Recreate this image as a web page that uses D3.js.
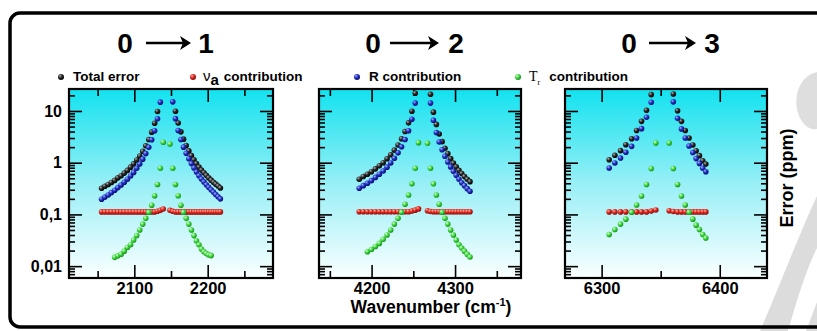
<!DOCTYPE html>
<html><head><meta charset="utf-8">
<script src="https://cdn.jsdelivr.net/npm/d3@7"></script>
<style>body{margin:0;background:#fff}svg{display:block}</style>
</head><body>
<script>
// ---------------- DATA ----------------
const titleFrom = ["0", "0", "0"];
const titleTo = ["1", "2", "3"];
const seriesNames = ["Total error", "contribution", "R contribution", "contribution"];
const yMajorTicks = [0.01, 0.1, 1, 10];
const yMajorLabels = ["0,01", "0,1", "1", "10"];
const xMajor01 = [2100, 2200], xMinor01 = [2050, 2150, 2250];
const xMajor02 = [4200, 4300], xMinor02 = [4150, 4250, 4350];
const xMajor03 = [6300, 6400], xMinor03 = [6350];
const xTitle = "Wavenumber (cm";
const yTitle = "Error (ppm)";

// Band 0 -> 1 : P(21..1) then R(0..20)
const wn01 = [2055.4, 2059.9, 2064.4, 2068.8, 2073.3, 2077.6, 2082.0, 2086.3, 2090.6, 2094.9, 2099.1, 2103.3, 2107.4, 2111.5, 2115.6, 2119.7, 2123.7, 2127.7, 2131.6, 2135.5, 2139.4,
  2148.6, 2152.4, 2156.1, 2159.8, 2163.5, 2167.1, 2170.7, 2174.3, 2177.8, 2181.3, 2184.7, 2188.1, 2191.5, 2194.9, 2198.2, 2201.4, 2204.7, 2207.9, 2211.0, 2214.2, 2217.3];
const total01 = [0.32, 0.35, 0.38, 0.415, 0.455, 0.51, 0.56, 0.63, 0.71, 0.82, 0.95, 1.13, 1.35, 1.66, 2.12, 2.8, 3.9, 5.8, 9.8, null, null,
  null, null, 9.9, 5.85, 3.95, 2.85, 2.15, 1.69, 1.37, 1.14, 0.96, 0.82, 0.72, 0.64, 0.57, 0.51, 0.46, 0.42, 0.385, 0.355, 0.325];
const nuA01 = [0.112, 0.112, 0.112, 0.112, 0.112, 0.112, 0.112, 0.112, 0.112, 0.112, 0.112, 0.112, 0.112, 0.112, 0.112, 0.112, 0.112, 0.112, 0.115, 0.12, 0.127,
  0.12, 0.115, 0.112, 0.112, 0.112, 0.112, 0.112, 0.112, 0.112, 0.112, 0.112, 0.112, 0.112, 0.112, 0.112, 0.112, 0.112, 0.112, 0.112, 0.112, 0.112];
const rot01 = [0.197, 0.216, 0.238, 0.264, 0.293, 0.33, 0.37, 0.42, 0.48, 0.555, 0.65, 0.78, 0.94, 1.17, 1.50, 1.98, 2.77, 4.16, 7.05, 14.8, null,
  null, 15, 7.1, 4.2, 2.8, 2.0, 1.52, 1.19, 0.96, 0.79, 0.66, 0.56, 0.485, 0.425, 0.375, 0.335, 0.30, 0.27, 0.243, 0.22, 0.2];
const tr01 = [null, null, null, null, 0.0148, 0.0158, 0.017, 0.0195, 0.023, 0.026, 0.032, 0.039, 0.050, 0.065, 0.084, 0.11, 0.15, 0.23, 0.38, 0.78, 2.48,
  2.3, 0.78, 0.38, 0.23, 0.15, 0.11, 0.084, 0.065, 0.05, 0.039, 0.031, 0.026, 0.0215, 0.019, 0.0175, 0.0165, 0.016, null, null, null, null];

// Band 0 -> 2 : P(17..1) then R(0..15)
const wn02 = [4185.2, 4190.1, 4195.0, 4199.8, 4204.6, 4209.3, 4213.9, 4218.5, 4222.9, 4227.3, 4231.7, 4235.9, 4240.1, 4244.3, 4248.3, 4252.3, 4256.2,
  4267.0, 4270.6, 4274.1, 4277.6, 4281.0, 4284.5, 4287.9, 4291.3, 4294.7, 4298.0, 4301.4, 4304.7, 4308.0, 4311.3, 4314.6, 4317.9];
const total02 = [0.48, 0.54, 0.60, 0.67, 0.76, 0.87, 1.0, 1.19, 1.42, 1.75, 2.2, 2.9, 4.0, 5.9, 9.9, 22, null,
  null, 21, 9.5, 5.5, 3.6, 2.55, 1.9, 1.5, 1.2, 0.98, 0.83, 0.71, 0.62, 0.54, 0.48, 0.43];
const nuA02 = [0.113, 0.113, 0.113, 0.113, 0.113, 0.113, 0.113, 0.113, 0.113, 0.113, 0.113, 0.113, 0.113, 0.113, 0.116, 0.121, 0.128,
  0.118, 0.114, 0.113, 0.113, 0.113, 0.113, 0.113, 0.113, 0.113, 0.113, 0.113, 0.113, 0.113, 0.113, 0.113, 0.113];
const rot02 = [0.32, 0.36, 0.40, 0.45, 0.52, 0.60, 0.69, 0.82, 0.99, 1.22, 1.55, 2.03, 2.80, 4.16, 6.93, 14.2, null,
  null, 14.2, 6.6, 3.83, 2.51, 1.78, 1.33, 1.03, 0.83, 0.68, 0.57, 0.48, 0.41, 0.36, 0.315, 0.28];
const tr02 = [null, null, 0.019, 0.021, 0.024, 0.0275, 0.033, 0.040, 0.050, 0.065, 0.084, 0.11, 0.157, 0.237, 0.39, 0.78, 2.44,
  2.37, 0.78, 0.39, 0.237, 0.157, 0.11, 0.084, 0.065, 0.050, 0.040, 0.032, 0.026, 0.0224, 0.0195, 0.017, 0.015];

// Band 0 -> 3 : P(10..1) then R(0..10)
const wn03 = [6306.4, 6311.2, 6316.0, 6320.5, 6325.4, 6329.6, 6333.8, 6338.0, 6342.0, 6345.9,
  6357.2, 6360.7, 6364.3, 6367.6, 6370.8, 6374.0, 6377.2, 6380.0, 6382.8, 6385.6, 6388.2];
const total03 = [1.14, 1.39, 1.71, 2.23, 2.9, 4.2, 6.3, 10.3, 20.7, null,
  null, 21.3, 10.1, 6.3, 4.2, 3.0, 2.2, 1.7, 1.37, 1.09, 0.94];
const nuA03 = [0.112, 0.112, 0.112, 0.112, 0.112, 0.112, 0.112, 0.112, 0.116, 0.122,
  0.118, 0.114, 0.112, 0.112, 0.112, 0.112, 0.112, 0.112, 0.112, 0.112, 0.112];
const rot03 = [0.79, 0.99, 1.23, 1.59, 2.07, 3.0, 4.55, 7.55, 14.7, null,
  null, 15, 7.2, 4.5, 3.0, 2.1, 1.57, 1.2, 0.97, 0.78, 0.67];
const tr03 = [0.041, 0.051, 0.065, 0.081, 0.11, 0.152, 0.227, 0.38, 0.77, 2.4,
  2.4, 0.77, 0.38, 0.227, 0.152, 0.11, 0.081, 0.062, 0.051, 0.041, 0.035];

// ---------------- LAYOUT ----------------
const W = 817, H = 331;
const yTop = 89, yBot = 278;
const bands = [
  {wn: wn01, total: total01, nuA: nuA01, rot: rot01, tr: tr01, major: xMajor01, minor: xMinor01, x0: 69, x1: 273, dom: [2011, 2289], t: [125, 146, 191, 206]},
  {wn: wn02, total: total02, nuA: nuA02, rot: rot02, tr: tr02, major: xMajor02, minor: xMinor02, x0: 319, x1: 521, dom: [4137, 4379], t: [373, 390, 439, 456]},
  {wn: wn03, total: total03, nuA: nuA03, rot: rot03, tr: tr03, major: xMajor03, minor: xMinor03, x0: 565, x1: 767, dom: [6269, 6440], t: [629, 649, 696, 712]}
];
const FONT = "'Liberation Sans', Arial, Helvetica, sans-serif";

const svg = d3.select("body").append("svg").attr("width", W).attr("height", H);
const defs = svg.append("defs");
const lg = defs.append("linearGradient").attr("id", "bg").attr("x1", 0).attr("y1", 0).attr("x2", 0).attr("y2", 1);
lg.append("stop").attr("offset", "0%").attr("stop-color", "#12e2ef");
lg.append("stop").attr("offset", "50%").attr("stop-color", "#98eff6");
lg.append("stop").attr("offset", "100%").attr("stop-color", "#fbffff");

const colors = {
  black: ["#b0b0b0", "#2a2a2a", "#000000"],
  blue: ["#a8b4ff", "#2233c8", "#0a0a6a"],
  red: ["#ffb8a8", "#e0281e", "#8a0c0c"],
  green: ["#e0ffd8", "#44dc44", "#169016"]
};
Object.entries(colors).forEach(([k, c]) => {
  const rg = defs.append("radialGradient").attr("id", "m-" + k).attr("cx", "35%").attr("cy", "32%").attr("r", "70%");
  rg.append("stop").attr("offset", "0%").attr("stop-color", c[0]);
  rg.append("stop").attr("offset", "45%").attr("stop-color", c[1]);
  rg.append("stop").attr("offset", "100%").attr("stop-color", c[2]);
});

// watermark shapes
svg.append("path").attr("d", "M817,72 C802,75 794,92 797,109 C800,124 810,131 817,129 Z").attr("fill", "#dedede");
svg.append("path").attr("d", "M817,196 C801,230 782,280 760,331 L788,331 C797,300 806,270 817,248 Z").attr("fill", "#dcdcdc");
svg.append("path").attr("d", "M806,331 L817,302 L817,331 Z").attr("fill", "#dcdcdc");

// outer frame
svg.append("rect").attr("x", 10).attr("y", 13).attr("width", 840).attr("height", 314).attr("rx", 10)
  .attr("fill", "none").attr("stroke", "#000").attr("stroke-width", 3.5);

const y = d3.scaleLog().domain([0.0059, 26.6]).range([yBot, yTop]);
const yMinorTicks = y.ticks().filter(v => !yMajorTicks.some(m => Math.abs(m - v) / m < 1e-6));

function styleAxis(g) {
  g.select(".domain").remove();
  g.selectAll(".tick line").attr("stroke", "#000").attr("stroke-width", 1.6);
  g.selectAll("text").attr("font-family", FONT).attr("font-weight", "bold").attr("fill", "#000");
}

bands.forEach((b, bi) => {
  const g = svg.append("g");
  const x = d3.scaleLinear().domain(b.dom).range([b.x0, b.x1]);
  const clipId = "clip" + bi;
  defs.append("clipPath").attr("id", clipId).append("rect")
    .attr("x", b.x0).attr("y", yTop).attr("width", b.x1 - b.x0).attr("height", yBot - yTop);
  g.append("rect").attr("x", b.x0).attr("y", yTop).attr("width", b.x1 - b.x0).attr("height", yBot - yTop).attr("fill", "url(#bg)");

  // axes
  g.append("g").attr("transform", `translate(0,${yBot})`)
    .call(d3.axisBottom(x).tickValues(b.major).tickSize(-13).tickPadding(4).tickFormat(d3.format("d")))
    .call(styleAxis).selectAll("text").attr("font-size", 16.5);
  g.append("g").attr("transform", `translate(0,${yBot})`)
    .call(d3.axisBottom(x).tickValues(b.minor).tickSize(-7).tickFormat("")).call(styleAxis);
  g.append("g").attr("transform", `translate(0,${yTop})`)
    .call(d3.axisTop(x).tickValues(b.major).tickSize(-13).tickFormat("")).call(styleAxis);
  g.append("g").attr("transform", `translate(0,${yTop})`)
    .call(d3.axisTop(x).tickValues(b.minor).tickSize(-7).tickFormat("")).call(styleAxis);
  g.append("g").attr("transform", `translate(${b.x0},0)`)
    .call(d3.axisLeft(y).tickValues(yMajorTicks).tickSize(-13).tickPadding(7)
      .tickFormat((d, i) => bi === 0 ? yMajorLabels[i] : ""))
    .call(styleAxis).selectAll("text").attr("font-size", 16);
  g.append("g").attr("transform", `translate(${b.x0},0)`)
    .call(d3.axisLeft(y).tickValues(yMinorTicks).tickSize(-6).tickFormat("")).call(styleAxis);
  g.append("g").attr("transform", `translate(${b.x1},0)`)
    .call(d3.axisRight(y).tickValues(yMajorTicks).tickSize(-13).tickFormat("")).call(styleAxis);
  g.append("g").attr("transform", `translate(${b.x1},0)`)
    .call(d3.axisRight(y).tickValues(yMinorTicks).tickSize(-6).tickFormat("")).call(styleAxis);

  // series
  const series = [["black", b.total], ["blue", b.rot], ["red", b.nuA], ["green", b.tr]];
  const pg = g.append("g").attr("clip-path", `url(#${clipId})`);
  series.forEach(([col, arr]) => {
    const pts = b.wn.map((w, i) => ({w, v: arr[i]})).filter(d => d.v != null);
    pg.selectAll(null).data(pts).enter().append("circle")
      .attr("cx", d => x(d.w)).attr("cy", d => y(d.v)).attr("r", 2.8)
      .attr("fill", `url(#m-${col})`);
  });

  g.append("rect").attr("x", b.x0).attr("y", yTop).attr("width", b.x1 - b.x0).attr("height", yBot - yTop)
    .attr("fill", "none").attr("stroke", "#000").attr("stroke-width", 2.2);

  // title
  const tg = svg.append("g").attr("font-family", FONT).attr("font-weight", "bold").attr("font-size", 28);
  tg.append("text").attr("x", b.t[0]).attr("y", 53).attr("text-anchor", "middle").text(titleFrom[bi]);
  tg.append("text").attr("x", b.t[3]).attr("y", 53).attr("text-anchor", "middle").text(titleTo[bi]);
  tg.append("line").attr("x1", b.t[1]).attr("x2", b.t[2] - 4).attr("y1", 43).attr("y2", 43)
    .attr("stroke", "#000").attr("stroke-width", 2.6);
  tg.append("path").attr("d", `M${b.t[2] - 11},36 L${b.t[2]},43 L${b.t[2] - 11},50 L${b.t[2] - 8},43 Z`).attr("fill", "#000");
});

// legend
const legX = [61, 193, 357, 518];
const legCols = ["black", "red", "blue", "green"];
const leg = svg.append("g").attr("font-family", FONT).attr("font-weight", "bold").attr("font-size", 13.5);
legCols.forEach((c, i) => {
  leg.append("circle").attr("cx", legX[i]).attr("cy", 77).attr("r", 3).attr("fill", `url(#m-${c})`);
});
leg.append("text").attr("x", 73).attr("y", 81).text(seriesNames[0]);
const t2 = leg.append("text").attr("x", 203).attr("y", 81);
t2.append("tspan").attr("font-size", 15).attr("font-weight", "normal").text("ν");
t2.append("tspan").attr("dy", 4).attr("font-size", 15).text("a");
t2.append("tspan").attr("dy", -4).attr("dx", 5).text(seriesNames[1]);
leg.append("text").attr("x", 369).attr("y", 81).text(seriesNames[2]);
const t4 = leg.append("text").attr("x", 529).attr("y", 81);
t4.append("tspan").attr("font-family", "'Liberation Serif', 'Times New Roman', serif").attr("font-weight", "normal").attr("font-size", 14).text("T");
t4.append("tspan").attr("dy", 4).attr("font-family", "'Liberation Serif', serif").attr("font-weight", "normal").attr("font-size", 8).text("r");
t4.append("tspan").attr("dy", -4).attr("dx", 9).text(seriesNames[3]);

// axis titles
const xt = svg.append("text").attr("x", 431).attr("y", 313).attr("text-anchor", "middle")
  .attr("font-family", FONT).attr("font-weight", "bold").attr("font-size", 17.5);
xt.append("tspan").text(xTitle);
xt.append("tspan").attr("dy", -7).attr("font-size", 11).text("-1");
xt.append("tspan").attr("dy", 7).text(")");

svg.append("text").attr("transform", "translate(793,178) rotate(-90)").attr("text-anchor", "middle")
  .attr("font-family", FONT).attr("font-weight", "bold").attr("font-size", 18).text(yTitle);
</script>
</body></html>
